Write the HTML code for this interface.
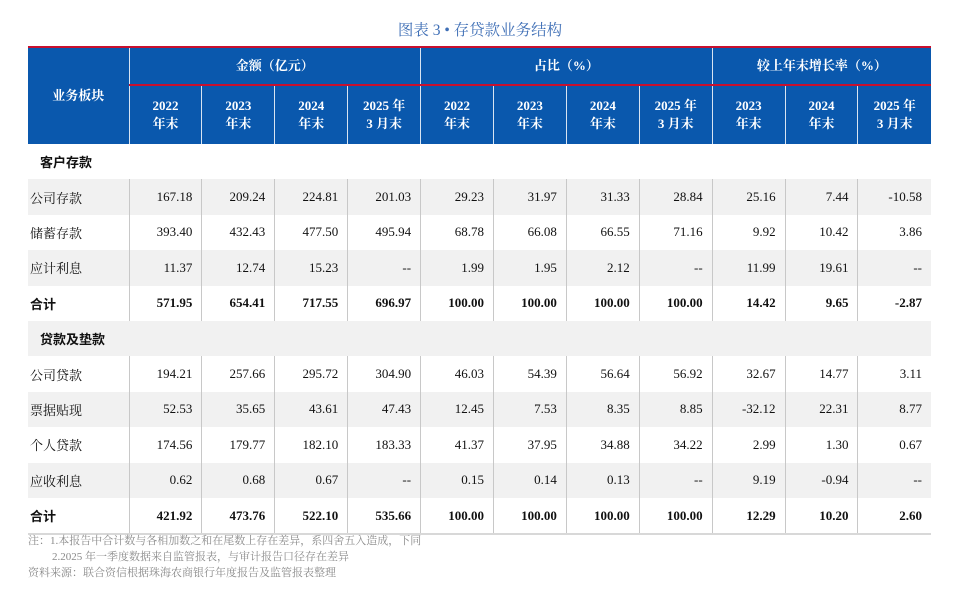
<!DOCTYPE html>
<html><head><meta charset="utf-8">
<style>
body{margin:0;width:960px;height:592px;background:#fff;position:relative;overflow:hidden;font-family:"Liberation Serif","Noto Serif CJK SC",serif;}
.title{position:absolute;left:0;width:960px;top:18px;text-align:center;font-size:15.5px;color:#3f6fb6;}
table{position:absolute;left:28px;top:46px;border-collapse:collapse;table-layout:fixed;width:903px;}
td,th{padding:0;font-size:13px;}
th{background:#0a58ad;color:#fff;font-weight:bold;text-align:center;line-height:18px;}
.top th{border-top:2px solid #c8102e;}
.r1 th{height:36px;}
.r2 th{height:58px;border-top:2px solid #c8102e;border-left:1.5px solid #d8e4f2;}
th.lead{border-right:1.5px solid #d8e4f2;}
.r1 th.g{border-left:1.5px solid #d8e4f2;}
td{height:35.4px;text-align:right;padding-right:9px;color:#111;border-left:1px solid #c8c8c8;}
td.l{text-align:left;padding-left:2px;padding-right:0;border-left:none;font-family:"Liberation Serif","Noto Serif CJK SC",serif;}
tr.gr td{background:#f1f1f1;}
tr.b td{font-weight:bold;}
tr.sec td{border-left:none;font-weight:bold;padding-left:12px;text-align:left;font-family:"Liberation Sans","Noto Sans CJK SC",sans-serif;}
tr.last td{border-bottom:2px solid #d8d8d8;}
tr.b td.l{font-family:"Liberation Sans","Noto Sans CJK SC",sans-serif;}
.note{position:absolute;left:28px;font-size:11px;color:#8a8a8a;font-family:"Liberation Serif","Noto Serif CJK SC",serif;}
</style></head><body>
<div class="title">图表 3 • 存贷款业务结构</div>
<table>
<colgroup><col style="width:101px"><col span="11" style="width:72.9px"></colgroup>
<tr class="top r1">
<th rowspan="2" class="lead" style="border-top:2px solid #c8102e">业务板块</th>
<th colspan="4">金额（亿元）</th>
<th colspan="4" class="g">占比（%）</th>
<th colspan="3" class="g">较上年末增长率（%）</th>
</tr>
<tr class="r2">
<th>2022<br>年末</th><th>2023<br>年末</th><th>2024<br>年末</th><th>2025 年<br>3 月末</th>
<th>2022<br>年末</th><th>2023<br>年末</th><th>2024<br>年末</th><th>2025 年<br>3 月末</th>
<th>2023<br>年末</th><th>2024<br>年末</th><th>2025 年<br>3 月末</th>
</tr>
<tr class="sec"><td colspan="12">客户存款</td></tr>
<tr class="gr"><td class="l">公司存款</td><td>167.18</td><td>209.24</td><td>224.81</td><td>201.03</td><td>29.23</td><td>31.97</td><td>31.33</td><td>28.84</td><td>25.16</td><td>7.44</td><td>-10.58</td></tr>
<tr><td class="l">储蓄存款</td><td>393.40</td><td>432.43</td><td>477.50</td><td>495.94</td><td>68.78</td><td>66.08</td><td>66.55</td><td>71.16</td><td>9.92</td><td>10.42</td><td>3.86</td></tr>
<tr class="gr"><td class="l">应计利息</td><td>11.37</td><td>12.74</td><td>15.23</td><td>--</td><td>1.99</td><td>1.95</td><td>2.12</td><td>--</td><td>11.99</td><td>19.61</td><td>--</td></tr>
<tr class="b"><td class="l">合计</td><td>571.95</td><td>654.41</td><td>717.55</td><td>696.97</td><td>100.00</td><td>100.00</td><td>100.00</td><td>100.00</td><td>14.42</td><td>9.65</td><td>-2.87</td></tr>
<tr class="sec gr"><td colspan="12">贷款及垫款</td></tr>
<tr><td class="l">公司贷款</td><td>194.21</td><td>257.66</td><td>295.72</td><td>304.90</td><td>46.03</td><td>54.39</td><td>56.64</td><td>56.92</td><td>32.67</td><td>14.77</td><td>3.11</td></tr>
<tr class="gr"><td class="l">票据贴现</td><td>52.53</td><td>35.65</td><td>43.61</td><td>47.43</td><td>12.45</td><td>7.53</td><td>8.35</td><td>8.85</td><td>-32.12</td><td>22.31</td><td>8.77</td></tr>
<tr><td class="l">个人贷款</td><td>174.56</td><td>179.77</td><td>182.10</td><td>183.33</td><td>41.37</td><td>37.95</td><td>34.88</td><td>34.22</td><td>2.99</td><td>1.30</td><td>0.67</td></tr>
<tr class="gr"><td class="l">应收利息</td><td>0.62</td><td>0.68</td><td>0.67</td><td>--</td><td>0.15</td><td>0.14</td><td>0.13</td><td>--</td><td>9.19</td><td>-0.94</td><td>--</td></tr>
<tr class="b last"><td class="l">合计</td><td>421.92</td><td>473.76</td><td>522.10</td><td>535.66</td><td>100.00</td><td>100.00</td><td>100.00</td><td>100.00</td><td>12.29</td><td>10.20</td><td>2.60</td></tr>
</table>
<div class="note" style="top:532px">注：1.本报告中合计数与各相加数之和在尾数上存在差异，系四舍五入造成，下同</div>
<div class="note" style="top:548px;left:52px">2.2025 年一季度数据来自监管报表，与审计报告口径存在差异</div>
<div class="note" style="top:564px">资料来源：联合资信根据珠海农商银行年度报告及监管报表整理</div>
</body></html>
